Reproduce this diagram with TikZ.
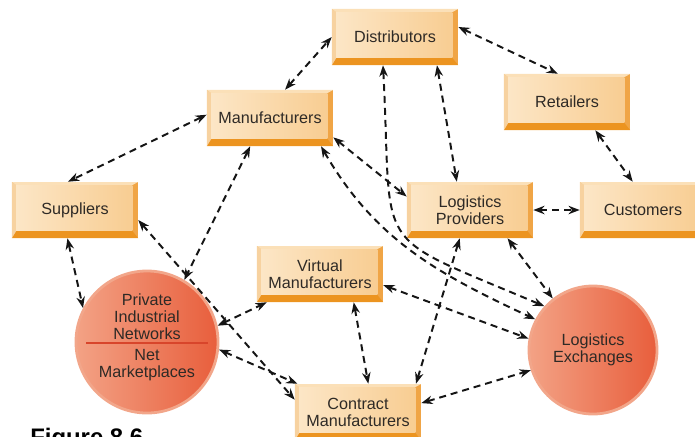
\documentclass[tikz,border=0pt]{standalone}
\usepackage{fontspec}
\setmainfont{Liberation Sans}
\usepackage{xcolor}
\usepackage{tikz}
\usetikzlibrary{arrows.meta,calc}

\definecolor{boxface}{HTML}{F8CD92}
\definecolor{boxlight}{HTML}{FCE6C6}
\definecolor{bevtop}{HTML}{FBE0B8}
\definecolor{bevleft}{HTML}{F7D2A0}
\definecolor{bevright}{HTML}{F0A546}
\definecolor{bevbot}{HTML}{EC9420}
\definecolor{ballleft}{HTML}{F3A285}
\definecolor{ballright}{HTML}{E85E3C}
\definecolor{ballrim}{HTML}{F2A68A}
\definecolor{divider}{HTML}{D8452B}
\definecolor{ink}{HTML}{2E2A26}
\definecolor{linkink}{HTML}{151515}

\pgfkeys{tikz/bevelbox/.style={rectangle,minimum width=3.15cm,minimum height=1.4cm,
  inner sep=0pt,align=center,text=ink,font=\fontsize{11.5}{12}\selectfont,
  fill=bevright,
  path picture={
    \coordinate (bl) at (path picture bounding box.south west);
    \coordinate (tr) at (path picture bounding box.north east);
    \coordinate (tl) at (bl |- tr);
    \coordinate (br) at (tr |- bl);
    \coordinate (ibl) at ([shift={(3pt,5pt)}]bl);
    \coordinate (itr) at ([shift={(-4pt,-2.2pt)}]tr);
    \fill[bevbot] (bl) -- (br) -- (itr |- ibl) -- (ibl) -- cycle;
    \fill[bevleft] (bl) -- (ibl) -- (ibl |- itr) -- (tl) -- cycle;
    \fill[bevtop] (tl) -- (ibl |- itr) -- (itr) -- (tr) -- cycle;
    \shade[left color=boxlight,right color=boxface] (ibl) rectangle (itr);
  }}}
\pgfkeys{tikz/ball/.style={circle,left color=ballleft,right color=ballright,
  draw=ballrim,line width=2pt,inner sep=0pt,align=center,text=ink,
  font=\fontsize{11.5}{12}\selectfont}}
\pgfkeys{tikz/lbl/.style={align=center,text=ink,inner sep=0pt,
  font=\fontsize{11.5}{12}\selectfont}}
\pgfkeys{tikz/link/.style={<->,>={Stealth[length=8pt,width=6pt]},
  line width=1.4pt,dash pattern=on 5pt off 3.5pt,draw=linkink}}

\begin{document}
\begin{tikzpicture}[x=0.025cm,y=-0.025cm]
  \useasboundingbox (0,0) rectangle (695,436);
  \clip (0,0) rectangle (695,436);

  % boxes
  \node[bevelbox] (dist) at (395,37) {Distributors};
  \node[bevelbox] (manu) at (270,118) {Manufacturers};
  \node[bevelbox] (ret) at (567,102) {Retailers};
  \node[bevelbox] (supp) at (75,210) {Suppliers};
  \node[bevelbox] (logp) at (470,210) {Logistics\\Providers};
  \node[bevelbox] (cust) at (643,210) {Customers};
  \node[bevelbox] (virt) at (320,274) {Virtual\\Manufacturers};
  \node[bevelbox] (cont) at (358,412) {Contract\\Manufacturers};

  % circles
  \node[ball,minimum size=3.55cm] (pin) at (147,342) {};
  \draw[divider,line width=0.9pt] ($(pin.center)+(-61,1)$) -- ($(pin.center)+(61,1)$);
  \node[lbl,anchor=south] (pinup) at ($(pin.center)+(0,-2)$) {Private\\Industrial\\Networks};
  \node[lbl,anchor=north] (pindown) at ($(pin.center)+(0,7)$) {Net\\Marketplaces};
  \node[ball,minimum size=3.2cm] (lex) at (593,350) {Logistics\\Exchanges};

  \node[anchor=base west,inner sep=0pt,text=black,
    font=\bfseries\fontsize{17}{20}\selectfont] (fig) at (30,445) {Figure 8.6};

  % links
  \draw[link] (manu.62) -- (dist.180);
  \draw[link] (dist.9) -- (ret.108);
  \draw[link] (manu.177) -- (supp.104);
  \draw[link] (ret.-45) -- (cust.110);
  \draw[link] (logp.east) -- (cust.west);
  \draw[link] (dist.-34) -- (logp.115);
  \draw[link] (dist.-113) to[out=-87,in=157,looseness=1.7] (lex.138);
  \draw[link] (manu.-29) to[out=-60,in=155] (lex.152);
  \draw[link] (manu.-17) -- (logp.168);
  \draw[link] (logp.-37) -- (lex.128);
  \draw[link] (supp.-105) -- (pin.152);
  \draw[link] (supp.-9) -- (cont.169);
  \draw[link] (manu.-125) -- (pin.59);
  \draw[link] (pin.13) -- (virt.-152);
  \draw[link] (pin.-6) -- (cont.155);
  \draw[link] (virt.-40) -- (cont.70);
  \draw[link] (logp.-110) -- (cont.26);
  \draw[link] (virt.-10) -- (lex.170);
  \draw[link] (cont.8) -- (lex.198);
\end{tikzpicture}
\end{document}
